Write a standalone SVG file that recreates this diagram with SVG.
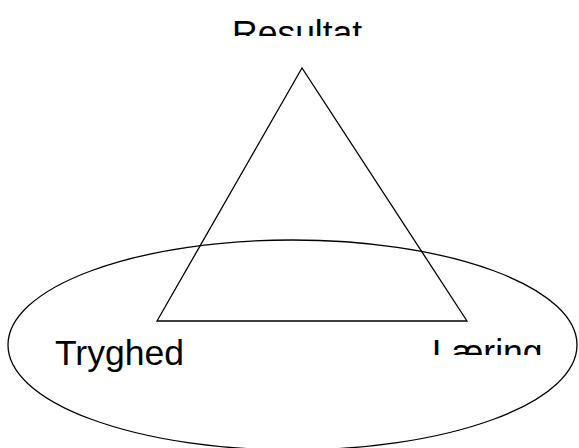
<svg xmlns="http://www.w3.org/2000/svg" width="579" height="448" viewBox="0 0 579 448">
<style>
.s{fill:none;stroke:#000;stroke-width:1.3}
.t{font-family:"Liberation Sans",Arial,sans-serif;font-size:35.5px;fill:#000}
</style>
<defs>
<clipPath id="cr"><rect x="0" y="0" width="579" height="36"/></clipPath>
<clipPath id="cl"><rect x="400" y="300" width="179" height="55"/></clipPath>
</defs>
<rect width="579" height="448" fill="#fff"/>
<g id="connectors">
<ellipse class="s" cx="292.5" cy="345" rx="284.5" ry="105"/>
<polygon class="s" points="302,68 157,321 467,321"/>
</g>
<g id="resultat"><text class="t" x="232" y="45" clip-path="url(#cr)">Resultat</text></g>
<g id="tryghed"><text class="t" x="55" y="365">Tryghed</text></g>
<g id="laering"><text class="t" x="432" y="364" clip-path="url(#cl)">Læring</text></g>
</svg>
